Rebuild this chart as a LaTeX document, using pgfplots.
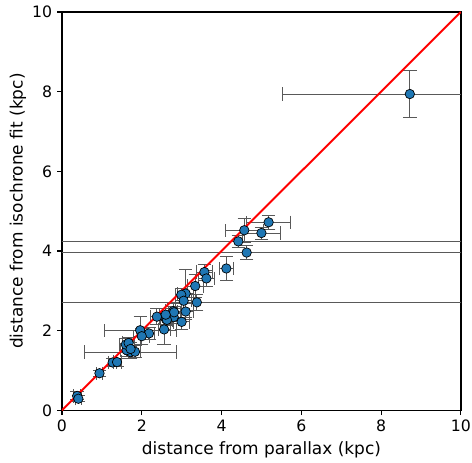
\documentclass[border=0pt]{standalone}
\usepackage{fontspec}
\setmainfont{DejaVu Sans}
\usepackage{pgfplots}
\pgfplotsset{compat=1.18}
\usepackage{pgfplotstable}
\definecolor{mplblue}{HTML}{1F77B4}
\pgfplotstableread{
x y ex ey
8.72 7.94 3.2 0.6
5.18 4.72 0.55 0.17
4.57 4.52 0.48 0.3
5.00 4.45 0.47 0.15
4.42 4.24 12 0.15
4.63 3.96 12 0.17
4.12 3.56 0.17 0.29
3.57 3.47 0.2 0.2
3.62 3.31 0.2 0.2
3.34 3.12 0.2 0.3
3.10 2.93 0.2 0.6
2.99 2.90 0.15 0.15
3.05 2.75 0.2 0.2
3.38 2.71 12 0.2
3.10 2.48 0.2 0.2
2.79 2.49 0.2 0.2
2.60 2.30 0.15 0.15
2.38 2.35 0.15 0.2
2.80 2.34 0.2 0.15
3.00 2.22 0.2 0.2
2.56 2.03 0.15 0.38
1.96 2.01 0.9 0.35
2.18 1.93 0.15 0.15
2.00 1.86 0.2 0.2
1.72 1.46 1.15 0.15
1.62 1.51 0.15 0.15
1.83 1.47 0.15 0.15
1.60 1.65 0.15 0.15
1.67 1.69 0.15 0.15
1.72 1.54 0.1 0.15
1.27 1.20 0.1 0.1
1.38 1.21 0.1 0.1
0.94 0.93 0.08 0.08
0.38 0.36 0.08 0.1
0.41 0.29 0.08 0.08
2.63 2.27 0.15 0.15
2.81 2.46 0.15 0.15
2.60 2.40 0.15 0.15
}\datatable
\begin{document}
\begin{tikzpicture}
\begin{axis}[
  scale only axis,
  width=287pt, height=286.6pt,
  xmin=0, xmax=10, ymin=0, ymax=10,
  xtick={0,2,4,6,8,10}, ytick={0,2,4,6,8,10},
  tick pos=left, tick align=outside,
  major tick length=3.5pt,
  axis line style={line width=0.9pt},
  every tick/.style={black, line width=0.8pt},
  /pgf/number format/assume math mode=true,
  tick label style={font=\fontsize{11.3}{13}\selectfont},
  label style={font=\fontsize{12.2}{14}\selectfont},
  xlabel={distance from parallax (kpc)},
  ylabel={distance from isochrone fit (kpc)},
  ylabel style={yshift=-2.5pt},
]
\addplot[only marks, mark=none,
  error bars/.cd, x dir=both, y dir=both, x explicit, y explicit,
  error bar style={draw=black!65, line width=0.7pt},
  error mark options={draw=black!65, line width=0.7pt, mark size=4.8pt, rotate=90}]
  table[x=x, y=y, x error=ex, y error=ey]{\datatable};
\addplot[red, line width=1.4pt] coordinates {(0,0) (10,10)};
\addplot[only marks, mark=*, mark size=3.4pt,
  mark options={fill=mplblue, draw=black, line width=0.5pt}]
  table[x=x, y=y]{\datatable};
\coordinate (sw) at (rel axis cs:0,0);
\coordinate (ne) at (rel axis cs:1,1);
\end{axis}
\pgfresetboundingbox
\path ([shift={(-44.6pt,-37.4pt)}]sw) rectangle ([shift={(8pt,8.6pt)}]ne);
\end{tikzpicture}
\end{document}
